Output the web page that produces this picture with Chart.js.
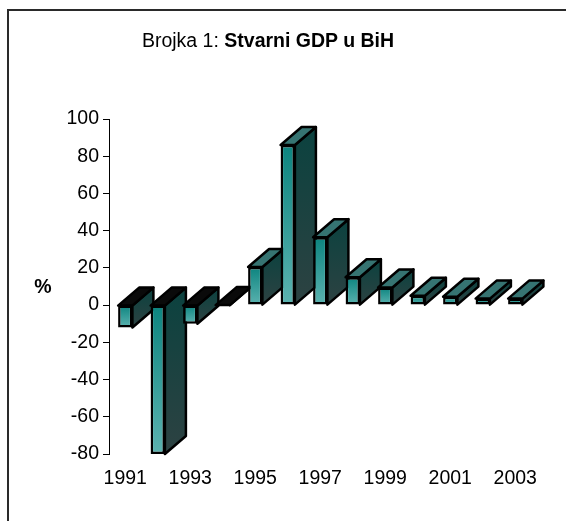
<!DOCTYPE html>
<html>
<head>
<meta charset="utf-8">
<script src="https://cdn.jsdelivr.net/npm/chart.js@4.4.1/dist/chart.umd.min.js"></script>
<style>
  html, body { margin: 0; padding: 0; background: #fff; overflow: hidden; }
  #wrap { position: relative; width: 566px; height: 521px; overflow: hidden; }
  #frame { position: absolute; left: 7px; top: 9px; width: 700px; height: 700px; border: 2px solid #2a2a2a; box-sizing: border-box; }
  #title { position: absolute; left: 0; top: 30px; width: 536px; text-align: center;
           font: 19.5px/20px "Liberation Sans", Arial, sans-serif; color: #000; }
  #unit { position: absolute; left: 30px; top: 276px; width: 26px; text-align: center;
          font: bold 19.5px/20px "Liberation Sans", Arial, sans-serif; color: #000; }
  canvas { position: absolute; left: 0; top: 0; }
</style>
</head>
<body>
<div id="wrap">
  <div id="frame"></div>
  <canvas id="gdp_chart" width="566" height="521"></canvas>
  <div id="title">Brojka 1: <b>Stvarni GDP u BiH</b></div>
  <div id="unit">%</div>
</div>
<script>
var years = ['1991', '1992', '1993', '1994', '1995', '1996', '1997', '1998', '1999', '2000', '2001', '2002', '2003'];
var growth = [-12, -80, -10, 0, 20.5, 86, 36.5, 15, 9.5, 5, 4.5, 3.5, 3.5];
var yTicks = [-80, -60, -40, -20, 0, 20, 40, 60, 80, 100];

var DX = 21, DY = -18;
var FONT = { family: '"Liberation Sans", Arial, sans-serif', size: 19.5 };

function barEnds(chart, v) {
  var y = chart.scales.y;
  return { top: y.getPixelForValue(Math.max(v, 0)), bottom: y.getPixelForValue(Math.min(v, 0)) };
}

// side and top faces of the 3d bars, drawn behind the front faces
var depthFaces = {
  id: 'depthFaces',
  beforeDatasetsDraw: function(chart) {
    var ctx = chart.ctx;
    var meta = chart.getDatasetMeta(0);
    ctx.save();
    ctx.lineWidth = 2.5;
    ctx.lineJoin = 'round';
    ctx.strokeStyle = '#000';
    meta.data.forEach(function(bar, i) {
      var p = bar.getProps(['x', 'y', 'base', 'width'], true);
      var left = p.x - p.width / 2, right = p.x + p.width / 2;
      var top = Math.min(p.y, p.base), bottom = Math.max(p.y, p.base);

      // side
      var g = ctx.createLinearGradient(0, top + DY, 0, bottom);
      g.addColorStop(0, '#0b423f');
      g.addColorStop(1, '#2d4242');
      ctx.beginPath();
      ctx.moveTo(right, top);
      ctx.lineTo(right + DX, top + DY);
      ctx.lineTo(right + DX, bottom + DY);
      ctx.lineTo(right, bottom);
      ctx.closePath();
      ctx.fillStyle = g;
      ctx.fill();
      ctx.stroke();

      // top
      ctx.beginPath();
      ctx.moveTo(left, top);
      ctx.lineTo(left + DX, top + DY);
      ctx.lineTo(right + DX, top + DY);
      ctx.lineTo(right, top);
      ctx.closePath();
      ctx.fillStyle = growth[i] > 0 ? '#367472' : '#0a0a0a';
      ctx.fill();
      ctx.stroke();
    });
    ctx.restore();
  }
};

var ctx = document.getElementById('gdp_chart');
var gdpChart = new Chart(ctx, {
  type: 'bar',
  data: {
    labels: years,
    datasets: [{
      data: growth,
      backgroundColor: function(c) {
        var chart = c.chart;
        if (!chart.chartArea) return '#2a9a95';
        var e = barEnds(chart, growth[c.dataIndex]);
        var g = chart.ctx.createLinearGradient(0, e.top, 0, e.bottom);
        g.addColorStop(0, '#0c847f');
        g.addColorStop(1, '#5cb3b0');
        return g;
      },
      borderColor: '#000',
      borderWidth: 2.5,
      borderSkipped: false,
      categoryPercentage: 1,
      barPercentage: 0.44
    }]
  },
  options: {
    responsive: false,
    animation: false,
    devicePixelRatio: 1,
    layout: { padding: { left: 0, right: 34.5, top: 119, bottom: 0 } },
    plugins: { legend: { display: false }, tooltip: { enabled: false }, title: { display: false } },
    scales: {
      x: {
        offset: true,
        grid: { display: false, drawTicks: false },
        border: { display: false },
        ticks: {
          autoSkip: false,
          maxRotation: 0,
          padding: 13,
          color: '#000',
          font: FONT,
          callback: function(v, i) { return i % 2 === 0 ? years[i] : ''; }
        },
        afterFit: function(scale) { scale.height = 67; }
      },
      y: {
        min: -80,
        max: 100,
        afterBuildTicks: function(scale) { scale.ticks = yTicks.map(function(v) { return { value: v }; }); },
        grid: { drawOnChartArea: false, drawTicks: true, tickLength: 6, color: '#000' },
        border: { display: true, color: '#000', width: 1 },
        ticks: { padding: 4, color: '#000', font: FONT },
        afterFit: function(scale) { scale.width = 109; }
      }
    }
  },
  plugins: [depthFaces]
});
</script>
</body>
</html>
